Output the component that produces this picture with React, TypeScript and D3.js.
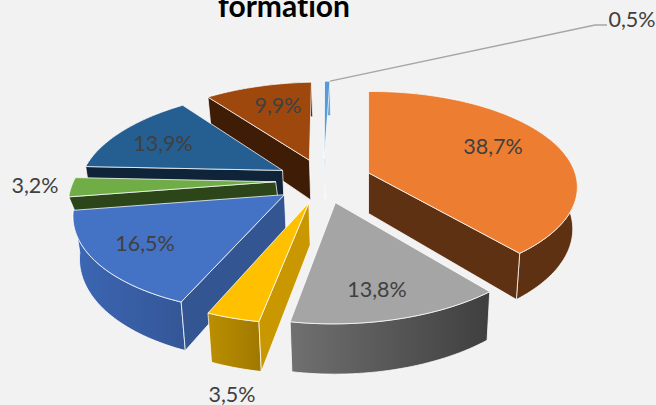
import React from "react";
import * as d3 from "d3";

const categories = ["a", "b", "c", "d", "e", "f", "g", "h"];
const values = [38.7, 13.8, 3.5, 16.5, 3.2, 13.9, 9.9, 0.5];
const labels = ["38,7%", "13,8%", "3,5%", "16,5%", "3,2%", "13,9%", "9,9%", "0,5%"];
const topColors = ["#ED7D31", "#A5A5A5", "#FFC000", "#4472C4", "#70AD47", "#255E91", "#9E480E", "#5B9BD5"];
const faceColors = ["#5F3113", "#424242", "#C99700", "#335592", "#2C4519", "#0F2438", "#3E1C06", "#6AA5DB"];
const wallFrom = ["#5F3113", "#707070", "#BC8F00", "#3C67B4", "#2C4519", "#0F2438", "#3E1C06", "#6AA5DB"];
const wallTo = ["#5F3113", "#3F3F3F", "#9F7800", "#345696", "#2C4519", "#0F2438", "#3E1C06", "#6AA5DB"];
const depthScale = [1, 1, 1, 1, 0.38, 1, 1, 1];
const labelX = [493, 377, 232, 145, 35, 163, 278, 632];
const labelY = [146, 289, 394, 243, 185, 143, 105, 19];
const paintOrder = [6, 7, 5, 4, 3, 0, 1, 2];

const W = 656, H = 405;
const cx = 323.5, cy = 180.5, R = 206, S = 95.5, k = 0.15, m = -0.012, x0 = -0.22, depth = 41, explode = 0.233, shrink = 0.978;

function project(X: number, Y: number, low: number): [number, number] {
  const p = 1 / (1 + k * Y + m * X);
  return [
    cx - x0 * R + (X + x0) * R * p * (low > 0 ? shrink : 1),
    cy - S * Y * p + low * depth * p,
  ];
}

const arcs = d3.pie<number>().sort(null).startAngle(0).endAngle(2 * Math.PI)(values);
const line = d3.line();

export default function App() {
  const slices = arcs.map((a, i) => {
    const mid = (a.startAngle + a.endAngle) / 2;
    const ax = explode * Math.sin(mid), ay = explode * Math.cos(mid);
    const n = Math.max(2, Math.ceil((a.endAngle - a.startAngle) * 40));
    const angles = d3.range(n + 1).map((j) => a.startAngle + ((a.endAngle - a.startAngle) * j) / n);
    const rim = (low: number) =>
      angles.map((t) => project(ax + Math.sin(t), ay + Math.cos(t), low));
    const apexT = project(ax, ay, 0), apexB = project(ax, ay, depthScale[i]);
    const rt = rim(0), rb = rim(depthScale[i]);
    return {
      top: line([apexT, ...rt])! + "Z",
      wall: line([...rt, ...[...rb].reverse()])! + "Z",
      startFace: line([apexT, rt[0], rb[0], apexB])! + "Z",
      endFace: line([apexT, rt[n], rb[n], apexB])! + "Z",
      showStart: Math.sin(a.startAngle) < -1e-6,
      showEnd: Math.sin(a.endAngle) > 1e-6,
      tip: rt[n],
    };
  });
  const edge = { stroke: "#fff", strokeOpacity: 0.75, strokeWidth: 1, strokeLinejoin: "round" as const };
  const leaderStart = slices[7].tip;
  return (
    <svg width={W} height={H} style={{ position: "absolute", left: 0, top: 0, background: "#F2F2F2" }}>
      <defs>
        {categories.map((c, i) => (
          <linearGradient key={c} id={`w${i}`} x1="0" x2="1" y1="0" y2="0">
            <stop offset="0" stopColor={wallFrom[i]} />
            <stop offset="1" stopColor={wallTo[i]} />
          </linearGradient>
        ))}
      </defs>
      <text x={284} y={17} textAnchor="middle" fontFamily="Lato" fontWeight="bold" fontSize={30} fill="#000" style={{ fontVariantLigatures: "none" }}>formation</text>
      {paintOrder.map((i) => (
        <g key={categories[i]}>
          <path d={slices[i].wall} fill={`url(#w${i})`} {...edge} />
          {slices[i].showEnd && <path d={slices[i].endFace} fill={faceColors[i]} {...edge} />}
          {slices[i].showStart && <path d={slices[i].startFace} fill={faceColors[i]} {...edge} />}
          <path d={slices[i].top} fill={topColors[i]} {...edge} />
        </g>
      ))}
      <path d={line([leaderStart, [595, 25], [607, 25]])!} fill="none" stroke="#A6A6A6" strokeWidth={1.5} />
      {labels.map((t, i) => (
        <text key={t} x={labelX[i]} y={labelY[i]} textAnchor="middle" dominantBaseline="central" fontFamily="Lato" fontSize={21.5} fill="#404040">{t}</text>
      ))}
    </svg>
  );
}
